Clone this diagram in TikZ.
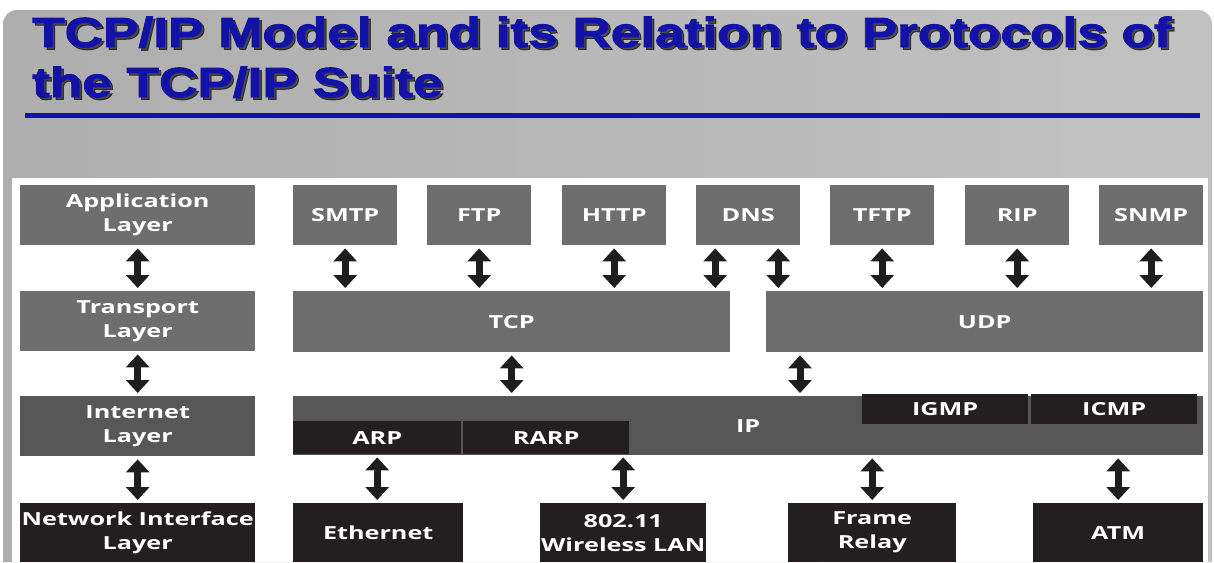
\documentclass[tikz,border=0pt]{standalone}
\usepackage{fontspec}
\usetikzlibrary{arrows.meta}
\newfontfamily\boxfont{Open Sans}[FakeStretch=1.4]
\newfontfamily\titlefont{Liberation Sans}[FakeStretch=1.265,FakeBold=2.2]
\definecolor{midgrey}{HTML}{6E6E6E}
\definecolor{darkgrey}{HTML}{575757}
\definecolor{boxblack}{HTML}{231F20}
\definecolor{navy}{HTML}{1212A6}
\definecolor{arrowblack}{HTML}{1E1E1E}
\definecolor{bgleft}{HTML}{AEAEAE}
\definecolor{bgmid}{HTML}{D0D0D0}
\definecolor{bgright}{HTML}{C2C2C2}
\tikzset{
  lbl/.style={text=white, font=\boxfont\bfseries\fontsize{18}{24}\selectfont, align=center, inner sep=0pt},
  greybox/.style={lbl, fill=midgrey},
  darkbox/.style={lbl, fill=darkgrey},
  blackbox/.style={lbl, fill=boxblack},
  titletext/.style={font=\titlefont\bfseries\fontsize{42}{50}\selectfont, inner sep=0pt, anchor=base west},
  link/.style={draw=arrowblack, line width=7pt,
    {Triangle[width=23pt,length=13pt]}-{Triangle[width=23pt,length=13pt]},
    shorten <=3pt, shorten >=3pt},
}
\newcommand\placebox[7]{\node[#2, anchor=north west, minimum width={(#5-#3)*1pt}, minimum height={(#6-#4)*1pt}] (#1) at (#3,#4) {#7};}
\begin{document}
\begin{tikzpicture}[x=1pt,y=-1pt]
\useasboundingbox (0,0) rectangle (1214,562);
\fill[white] (0,0) rectangle (1214,562);
% background
\shade[left color=bgleft, middle color=bgmid, right color=bgright]
  (3,562) [rounded corners=14pt] -- (3,10) -- (1212,10) [sharp corners] -- (1212,562) -- cycle;
\fill[white] (12,178) rectangle (1208,562);
% title (shadow first)
\node[titletext, text=black, opacity=0.6] (t1s) at (34.5,49.5) {TCP/IP Model and its Relation to Protocols of};
\node[titletext, text=black, opacity=0.6] (t2s) at (34.5,99.5) {the TCP/IP Suite};
\node[titletext, text=navy] (t1) at (32,47) {TCP/IP Model and its Relation to Protocols of};
\node[titletext, text=navy] (t2) at (32,97) {the TCP/IP Suite};
\draw[navy, line width=5pt] (25,115) -- (1200,115);
% layers
\placebox{app}{greybox}{20}{185}{255}{245}{Application\\Layer}
\placebox{trans}{greybox}{20}{291}{255}{351}{Transport\\Layer}
\placebox{inet}{darkbox}{20}{396}{255}{456}{Internet\\Layer}
\placebox{net}{blackbox}{20}{503}{255}{562}{Network Interface\\Layer}
% applications
\placebox{smtp}{greybox}{293}{185}{397}{245}{SMTP}
\placebox{ftp}{greybox}{427}{185}{531}{245}{FTP}
\placebox{http}{greybox}{562}{185}{666}{245}{HTTP}
\placebox{dns}{greybox}{696}{185}{800}{245}{DNS}
\placebox{tftp}{greybox}{830}{185}{934}{245}{TFTP}
\placebox{rip}{greybox}{965}{185}{1069}{245}{RIP}
\placebox{snmp}{greybox}{1099}{185}{1203}{245}{SNMP}
% transport
\placebox{tcp}{greybox}{293}{291}{730}{352}{TCP}
\placebox{udp}{greybox}{766}{291}{1203}{352}{UDP}
% internet
\placebox{ip}{darkbox}{293}{396}{1203}{455}{IP}
\placebox{igmp}{blackbox}{862}{394}{1028}{424}{IGMP}
\placebox{icmp}{blackbox}{1031}{394}{1197}{424}{ICMP}
\placebox{arp}{blackbox}{293}{421}{461}{454}{ARP}
\placebox{rarp}{blackbox}{463}{421}{629}{454}{RARP}
% network
\placebox{eth}{blackbox}{293}{503}{463}{562}{Ethernet}
\placebox{wlan}{blackbox}{540}{503}{706}{562}{802.11\\Wireless LAN}
\placebox{frame}{blackbox}{788}{503}{956}{562}{Frame\\Relay}
\placebox{atm}{blackbox}{1033}{503}{1203}{562}{ATM}
% helper coordinates
\coordinate (dnsL) at ([xshift=-33pt]dns.south);
\coordinate (dnsR) at ([xshift=30pt]dns.south);
\coordinate (udpA) at ([xshift=34pt]udp.south west);
% arrows row 1
\draw[link] (app.south) -- (trans.north);
\draw[link] (smtp.south) -- (smtp.south |- tcp.north);
\draw[link] (ftp.south) -- (ftp.south |- tcp.north);
\draw[link] (http.south) -- (http.south |- tcp.north);
\draw[link] (dnsL) -- (dnsL |- tcp.north);
\draw[link] (dnsR) -- (dnsR |- udp.north);
\draw[link] (tftp.south) -- (tftp.south |- udp.north);
\draw[link] (rip.south) -- (rip.south |- udp.north);
\draw[link] (snmp.south) -- (snmp.south |- udp.north);
% arrows row 2
\draw[link] (trans.south) -- (inet.north);
\draw[link] (tcp.south) -- (tcp.south |- ip.north);
\draw[link] (udpA) -- (udpA |- ip.north);
% arrows row 3
\draw[link] (inet.south) -- (net.north);
\draw[link] (arp.south) -- (arp.south |- eth.north);
\draw[link] (wlan.north) -- (wlan.north |- rarp.south);
\draw[link] (frame.north) -- (frame.north |- ip.south);
\draw[link] (atm.north) -- (atm.north |- ip.south);
\end{tikzpicture}
\end{document}
